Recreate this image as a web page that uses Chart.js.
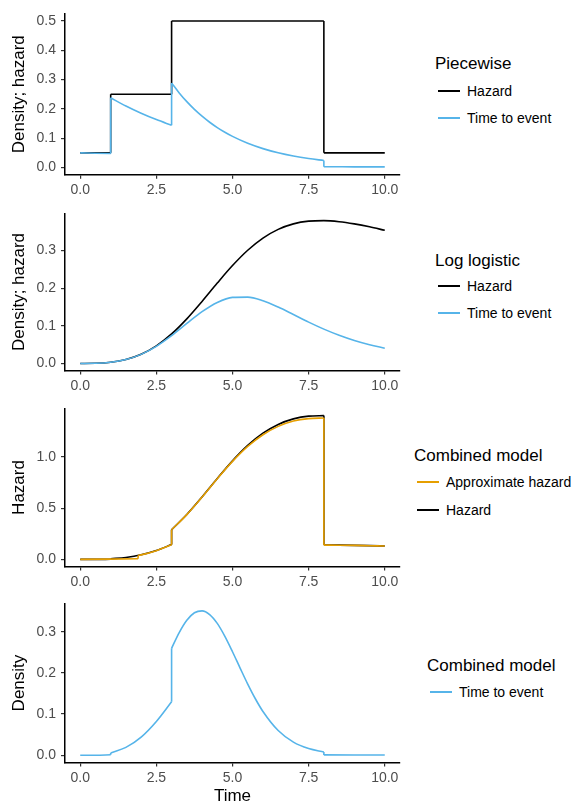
<!DOCTYPE html>
<html>
<head>
<meta charset="utf-8">
<script src="https://cdn.jsdelivr.net/npm/chart.js@4.4.1/dist/chart.umd.min.js"></script>
<style>
  body { margin: 0; background: #fff; }
  #wrap { position: relative; width: 574px; height: 808px; font-family: "Liberation Sans", Arial, sans-serif; }
  canvas { position: absolute; left: 0; }
  .lg-title { position: absolute; font-size: 17px; color: #000; white-space: nowrap; }
  .lg-item { position: absolute; font-size: 14px; color: #000; white-space: nowrap; }
  .lg-key { position: absolute; height: 2px; }
</style>
</head>
<body>
<div id="wrap">
  <canvas id="c1"></canvas>
  <canvas id="c2"></canvas>
  <canvas id="c3"></canvas>
  <canvas id="c4"></canvas>
</div>
<script>
// shared x ticks
const xTicks = [0, 2.5, 5, 7.5, 10];

// panel 1: piecewise
const pwHazTime = [0, 1, 1, 3, 3, 8, 8, 10];
const pwHazard = [0.05, 0.05, 0.25, 0.25, 0.5, 0.5, 0.05, 0.05];
const pwTime = [0, 0.5, 1, 1, 1.5, 2, 2.5, 3, 3, 3.25, 3.5, 3.75, 4, 4.25, 4.5, 4.75, 5, 5.5, 6, 6.5, 7, 7.5, 8, 8, 9, 10];
const pwEvent = [0.05, 0.0488, 0.0476, 0.2378, 0.2099, 0.1852, 0.1634, 0.1442, 0.2885, 0.2546, 0.2247, 0.1983, 0.1750, 0.1544, 0.1363, 0.1203, 0.1061, 0.0826, 0.0644, 0.0501, 0.0390, 0.0304, 0.0237, 0.0024, 0.0022, 0.0021];
const pwYTicks = [0, 0.1, 0.2, 0.3, 0.4, 0.5];

// panel 2: log logistic
const llTime = [0, 0.5, 1, 1.5, 2, 2.5, 3, 3.5, 4, 4.5, 5, 5.5, 6, 6.5, 7, 7.5, 8, 8.5, 9, 9.5, 10];
const llHazard = [0, 0.0004, 0.0031, 0.0104, 0.0244, 0.0468, 0.0784, 0.1186, 0.1649, 0.2137, 0.2603, 0.3010, 0.3333, 0.3565, 0.3711, 0.3784, 0.3798, 0.3770, 0.3711, 0.3633, 0.3540];
const llEvent = [0, 0.0004, 0.0031, 0.0103, 0.0241, 0.0455, 0.0738, 0.1063, 0.1377, 0.1623, 0.1756, 0.1764, 0.1667, 0.1500, 0.1301, 0.1099, 0.0913, 0.0750, 0.0612, 0.0499, 0.0406];
const llYTicks = [0, 0.1, 0.2, 0.3];

// panel 3: combined model hazard
const cmTime = [0, 0.5, 1, 1, 1.5, 2, 2.5, 3, 3, 3.5, 4, 4.5, 5, 5.5, 6, 6.5, 7, 7.5, 8, 8, 8.5, 9, 9.5, 10];
const cmHazard = [0, 0.0001, 0.0011, 0.0057, 0.0192, 0.0451, 0.0866, 0.1451, 0.2902, 0.4388, 0.6101, 0.7907, 0.9631, 1.1137, 1.2333, 1.3191, 1.3731, 1.4001, 1.4053, 0.1405, 0.1395, 0.1373, 0.1344, 0.1310];
const apTime = [0, 1.9, 1.9, 2, 2.5, 3, 3, 3.5, 4, 4.5, 5, 5.5, 6, 6.5, 7, 7.5, 8, 8, 8.5, 9, 9.5, 10];
const apHazard = [0, 0.006, 0.038, 0.044, 0.085, 0.143, 0.290, 0.438, 0.609, 0.789, 0.958, 1.104, 1.218, 1.300, 1.352, 1.376, 1.382, 0.140, 0.139, 0.137, 0.134, 0.131];
const cmYTicks = [0, 0.5, 1.0];

// panel 4: combined model density
const cdTime = [0, 0.5, 1, 1, 1.5, 2, 2.5, 3, 3, 3.25, 3.5, 3.75, 4, 4.25, 4.5, 4.75, 5, 5.25, 5.5, 5.75, 6, 6.5, 7, 7.5, 8, 8, 9, 10];
const cdEvent = [0, 0.0001, 0.0011, 0.0057, 0.0191, 0.0441, 0.0821, 0.1299, 0.2597, 0.2978, 0.3277, 0.3460, 0.3507, 0.3418, 0.3203, 0.2888, 0.2514, 0.2117, 0.1728, 0.1372, 0.1063, 0.0600, 0.0318, 0.0162, 0.0081, 0.0008, 0.0007, 0.0006];
const cdYTicks = [0, 0.1, 0.2, 0.3];

const BLACK = '#000000';
const BLUE = '#56B4E9';
const ORANGE = '#E69F00';

Chart.defaults.font.family = '"Liberation Sans", Arial, sans-serif';
Chart.defaults.animation = false;

function lineDs(xs, ys, color) {
  return {
    data: xs.map((x, i) => ({ x: x, y: ys[i] })),
    borderColor: color,
    borderWidth: 1.6,
    pointRadius: 0,
    fill: false,
    cubicInterpolationMode: 'monotone'
  };
}

// split a series at repeated x values so the jumps stay vertical
function series(xs, ys, color) {
  const out = [];
  let start = 0;
  for (let i = 0; i < xs.length; i++) {
    const last = i === xs.length - 1;
    if (last || xs[i + 1] === xs[i]) {
      out.push(lineDs(xs.slice(start, i + 1), ys.slice(start, i + 1), color));
      if (!last) out.push(lineDs([xs[i], xs[i + 1]], [ys[i], ys[i + 1]], color));
      start = i + 1;
    }
  }
  return out;
}

function makePanel(id, top, height, areaTop, areaBottom, yMin, yMax, yTicks, yTitle, datasets, xTitle) {
  const cv = document.getElementById(id);
  cv.style.top = top + 'px';
  cv.style.width = '410px';
  cv.style.height = height + 'px';
  cv.width = 410;
  cv.height = height;
  new Chart(cv, {
    type: 'line',
    data: { datasets: datasets },
    options: {
      responsive: false,
      layout: { padding: { top: areaTop, right: 10, left: 0, bottom: 0 } },
      plugins: { legend: { display: false }, tooltip: { enabled: false } },
      scales: {
        x: {
          type: 'linear',
          min: -0.5,
          max: 10.5,
          afterBuildTicks: s => { s.ticks = xTicks.map(v => ({ value: v })); },
          afterFit: s => { s.height = height - areaBottom; },
          ticks: { color: '#4D4D4D', font: { size: 14 }, padding: 3, callback: v => v.toFixed(1), maxRotation: 0 },
          grid: { drawOnChartArea: false, drawTicks: true, tickLength: 4, color: '#333333', lineWidth: 1.2 },
          border: { display: true, color: BLACK, width: 1.5 },
          title: { display: !!xTitle, text: xTitle || '', color: BLACK, font: { size: 17 }, padding: { top: 0, bottom: 1 } }
        },
        y: {
          type: 'linear',
          min: yMin,
          max: yMax,
          afterBuildTicks: s => { s.ticks = yTicks.map(v => ({ value: v })); },
          afterFit: s => { s.width = 65; },
          ticks: { color: '#4D4D4D', font: { size: 14 }, padding: 5, callback: v => v.toFixed(1) },
          grid: { drawOnChartArea: false, drawTicks: true, tickLength: 4, color: '#333333', lineWidth: 1.2 },
          border: { display: true, color: BLACK, width: 1.5 },
          title: { display: true, text: yTitle, color: BLACK, font: { size: 17 }, padding: { top: 9, bottom: 0 } }
        }
      }
    }
  });
}

makePanel('c1', 0, 200, 13.7, 174.8, -0.025, 0.525, pwYTicks, 'Density; hazard',
  series(pwTime, pwEvent, BLUE).concat(series(pwHazTime, pwHazard, BLACK)));

makePanel('c2', 200, 200, 10.4, 170.6, -0.019, 0.399, llYTicks, 'Density; hazard',
  series(llTime, llEvent, BLUE).concat(series(llTime, llHazard, BLACK)));

makePanel('c3', 395, 195, 11.4, 171.6, -0.0703, 1.4756, cmYTicks, 'Hazard',
  series(apTime, apHazard, ORANGE).concat(series(cmTime, cmHazard, BLACK)));

makePanel('c4', 590, 218, 13.6, 172.5, -0.0176, 0.3683, cdYTicks, 'Density',
  series(cdTime, cdEvent, BLUE), 'Time');

// legends (html)
const wrap = document.getElementById('wrap');
function legend(title, tx, ty, keyX, items) {
  const t = document.createElement('div');
  t.className = 'lg-title';
  t.textContent = title;
  t.style.left = tx + 'px';
  t.style.top = (ty - 10) + 'px';
  t.style.lineHeight = '20px';
  wrap.appendChild(t);
  items.forEach(it => {
    const k = document.createElement('div');
    k.className = 'lg-key';
    k.style.left = keyX + 'px';
    k.style.width = '22px';
    k.style.top = (it.y - 1) + 'px';
    k.style.background = it.color;
    wrap.appendChild(k);
    const l = document.createElement('div');
    l.className = 'lg-item';
    l.textContent = it.label;
    l.style.left = (keyX + 29) + 'px';
    l.style.top = (it.y - 9) + 'px';
    l.style.lineHeight = '18px';
    wrap.appendChild(l);
  });
}
legend('Piecewise', 435, 64, 438, [{ label: 'Hazard', color: BLACK, y: 91 }, { label: 'Time to event', color: BLUE, y: 118 }]);
legend('Log logistic', 435, 261, 438, [{ label: 'Hazard', color: BLACK, y: 286 }, { label: 'Time to event', color: BLUE, y: 313 }]);
legend('Combined model', 414, 456, 417, [{ label: 'Approximate hazard', color: ORANGE, y: 482 }, { label: 'Hazard', color: BLACK, y: 510 }]);
legend('Combined model', 427, 666, 430, [{ label: 'Time to event', color: BLUE, y: 692 }]);
</script>
</body>
</html>
